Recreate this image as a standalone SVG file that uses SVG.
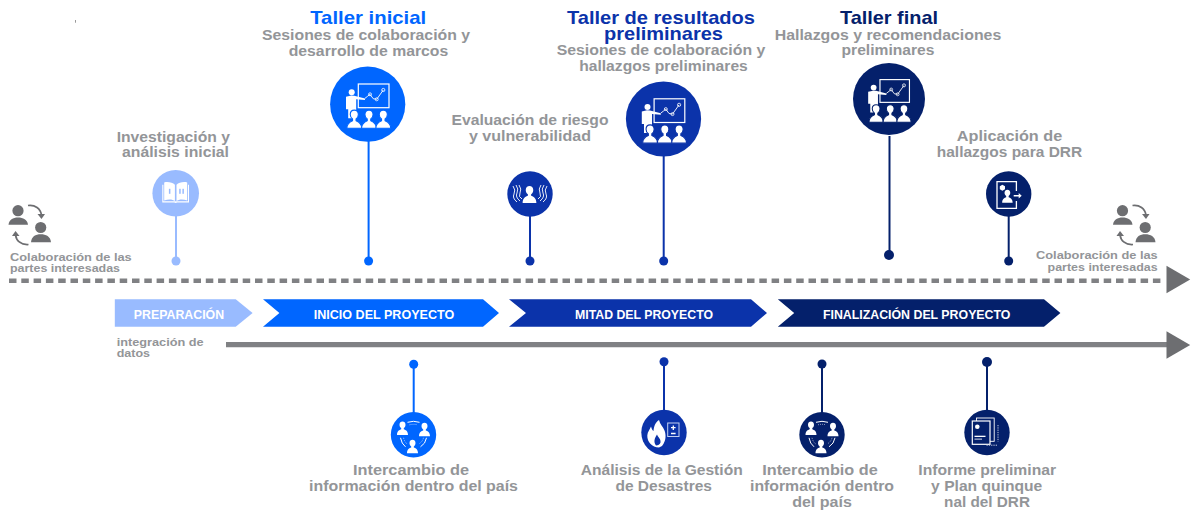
<svg xmlns="http://www.w3.org/2000/svg" xmlns:xlink="http://www.w3.org/1999/xlink" width="1193" height="510" viewBox="0 0 1193 510">
<style>
text{font-family:"Liberation Sans",Arial,sans-serif;font-weight:700;text-anchor:middle}
.s{fill:#939598;font-size:15px}
.c{fill:#939598;font-size:11.5px}
.e{fill:#939598;font-size:11.5px;text-anchor:start}
.t{font-size:19px}
.l{fill:#fff;font-size:12.5px}
.i{fill:#fff;stroke:none}
.o{fill:none;stroke:#fff;stroke-width:1.2}
.lb{fill:#99BBFF;stroke:#99BBFF}
.bl{fill:#0066FF;stroke:#0066FF}
.md{fill:#0B33AA;stroke:#0B33AA}
.dk{fill:#04206B;stroke:#04206B}
.cn{fill:none;stroke-width:2}
.dot{stroke:none}
</style>
<defs>
<polygon id="head" points="0,-13.8 23.7,0 0,13.8" fill="#6D6E71"/>
<path id="per" d="M-5.5 7.5C-5.5 3.5-3 2.5-1.3 1.8V0.6C-2.4-0.2-3-1.4-3-2.8-3-4.8-1.7-6 0-6S3-4.8 3-2.8C3-1.4 2.4-0.2 1.3 0.6V1.8C3 2.5 5.5 3.5 5.5 7.5Z"/>
<g id="pres" style="color:inherit">
<rect x="-9.4" y="-20.2" width="30.7" height="23.7" class="o"/>
<polyline points="-2.7,-5.9 0,-8 2.3,-9.9 5.5,-5.5 9,-4.9 15.6,-14.2" fill="none" stroke="#fff" stroke-width="0.9"/>
<circle cx="15.6" cy="-14.2" r="1.6" fill="none" stroke="#fff" stroke-width="0.8"/>
<circle cx="9" cy="-4.9" r="1.5" fill="none" stroke="#fff" stroke-width="0.8"/>
<circle cx="2.3" cy="-9.9" r="1.5" fill="none" stroke="#fff" stroke-width="0.8"/>
<circle cx="-16" cy="-11.9" r="3" class="i"/>
<path class="i" d="M-21.7-7.5-16.5-8.7-13.5-8.5-2.7-5.8-2.7-4.2-11.5-5V9H-15L-16 14H-19.5V5H-21.7Z"/>
<use href="#per" transform="translate(-13.4 14) scale(1.35)" fill="#fff" stroke="currentColor" stroke-width="0.8"/>
<use href="#per" transform="translate(1.3 14) scale(1.35)" fill="#fff" stroke="currentColor" stroke-width="0.8"/>
<use href="#per" transform="translate(15.6 14) scale(1.35)" fill="#fff" stroke="currentColor" stroke-width="0.8"/>
</g>
<g id="share">
<use href="#per" class="i" transform="translate(-11 -7.3) scale(1)"/>
<use href="#per" class="i" transform="translate(11 -6) scale(1)"/>
<use href="#per" class="i" transform="translate(-1 11) scale(1)"/>
<path d="M-6-12.5Q0-14.5 6-12.5" fill="none" stroke="#fff" stroke-width="1"/>
<path d="M-4-10Q0-11 4-10" fill="none" stroke="#fff" stroke-width="0.6" stroke-dasharray="1 1"/>
<path d="M-13 3Q-12 9-8 12M13 3Q12 9 7 12" fill="none" stroke="#fff" stroke-width="1"/>
<path d="M-10 3Q-9 7-6.5 9M10 3Q9 7 5.5 9" fill="none" stroke="#fff" stroke-width="0.6" stroke-dasharray="1 1"/>
</g>
<g id="collab">
<circle cx="18" cy="210.7" r="5.6" fill="#6D6E71"/>
<path d="M8.5 224.8C9 219.5 13 217.5 18 217.5S27.5 219.5 28 224.8Z" fill="#6D6E71"/>
<circle cx="40.7" cy="227.5" r="5.6" fill="#6D6E71"/>
<path d="M31 242.3C31.5 236.5 35.5 234.3 40.7 234.3S50.5 236.5 51 242.3Z" fill="#6D6E71"/>
<path d="M28 205.5C35 204.5 40.5 208.5 41.5 215" fill="none" stroke="#6D6E71" stroke-width="1.7"/>
<polygon points="37.5,214 45,214 41.5,219" fill="#6D6E71"/>
<path d="M28.5 244.5C21 245 16.5 241 15.5 235" fill="none" stroke="#6D6E71" stroke-width="1.7"/>
<polygon points="12,236 19.5,236 15.5,231" fill="#6D6E71"/>
</g>
</defs>

<rect x="75" y="20" width="1" height="2.7" fill="#999"/>

<g id="connectors">
<line x1="9" y1="280.7" x2="1163" y2="280.7" stroke="#808184" stroke-width="4.5" stroke-dasharray="7.5 4.8"/>
<use href="#head" x="1166.5" y="279.5"/>
<line x1="226" y1="344.7" x2="1168" y2="344.7" stroke="#808184" stroke-width="5.2"/>
<use href="#head" x="1166.5" y="345"/>
<line class="cn lb" x1="176" y1="215" x2="176" y2="261"/><circle class="dot lb" cx="176" cy="261" r="4.5"/>
<line class="cn bl" x1="368.6" y1="140" x2="368.6" y2="261"/><circle class="dot bl" cx="368.6" cy="261" r="4.5"/>
<line class="cn md" x1="530" y1="215" x2="530" y2="261"/><circle class="dot md" cx="530" cy="261" r="4.5"/>
<line class="cn md" x1="663.7" y1="155" x2="663.7" y2="261"/><circle class="dot md" cx="663.7" cy="261" r="4.5"/>
<line class="cn dk" x1="889.5" y1="136" x2="889.5" y2="255"/><circle class="dot dk" cx="889" cy="255" r="5"/>
<line class="cn dk" x1="1008.7" y1="215" x2="1008.7" y2="261"/><circle class="dot dk" cx="1008.7" cy="261" r="4.5"/>
<line class="cn bl" x1="413.7" y1="364" x2="413.7" y2="414"/><circle class="dot bl" cx="413.7" cy="364.3" r="4.5"/>
<line class="cn md" x1="664" y1="362" x2="664" y2="412"/><circle class="dot md" cx="664" cy="361.7" r="4.5"/>
<line class="cn dk" x1="822" y1="364" x2="822" y2="414"/><circle class="dot dk" cx="822" cy="364" r="4.5"/>
<line class="cn dk" x1="987" y1="362" x2="987" y2="412"/><circle class="dot dk" cx="987" cy="362" r="5"/>
</g>

<g id="phase-preparacion"><polygon points="114.8,299.3 235.7,299.3 252.6,313 235.7,326.7 114.8,326.7" fill="#99BBFF"/><text class="l" x="179" y="318.5" textLength="90.3" lengthAdjust="spacingAndGlyphs">PREPARACIÓN</text></g>
<g id="phase-inicio"><polygon points="263,299.3 483,299.3 499,313 483,326.7 263,326.7 279.4,313" fill="#0066FF"/><text class="l" x="384" y="318.5" textLength="140.5" lengthAdjust="spacingAndGlyphs">INICIO DEL PROYECTO</text></g>
<g id="phase-mitad"><polygon points="509,299.3 751,299.3 767,313 751,326.7 509,326.7 526,313" fill="#0B33AA"/><text class="l" x="644" y="318.5" textLength="138" lengthAdjust="spacingAndGlyphs">MITAD DEL PROYECTO</text></g>
<g id="phase-final"><polygon points="777.8,299.3 1044,299.3 1060.4,313 1044,326.7 777.8,326.7 794.2,313" fill="#04206B"/><text class="l" x="916.7" y="318.5" textLength="187.5" lengthAdjust="spacingAndGlyphs">FINALIZACIÓN DEL PROYECTO</text></g>

<g id="collab-left"><use href="#collab"/><text class="e" x="10" y="260.5" textLength="121.7" lengthAdjust="spacingAndGlyphs">Colaboración de las</text><text class="e" x="10" y="272" textLength="110" lengthAdjust="spacingAndGlyphs">partes interesadas</text></g>
<g id="collab-right"><use href="#collab" transform="translate(1104.5 0)"/><text class="e" x="1036" y="259.3" textLength="121.7" lengthAdjust="spacingAndGlyphs">Colaboración de las</text><text class="e" x="1047.6" y="270.5" textLength="110" lengthAdjust="spacingAndGlyphs">partes interesadas</text></g>
<g id="integracion"><text class="e" x="116.7" y="346" textLength="87" lengthAdjust="spacingAndGlyphs">integración de</text><text class="e" x="116.7" y="357" textLength="33.3" lengthAdjust="spacingAndGlyphs">datos</text></g>

<g id="investigacion">
<text class="s" x="173.3" y="141.5" textLength="113.3" lengthAdjust="spacingAndGlyphs">Investigación y</text>
<text class="s" x="175.5" y="157" textLength="107" lengthAdjust="spacingAndGlyphs">análisis inicial</text>
<circle cx="175.7" cy="193.3" r="23.3" fill="#99BBFF"/>
<g transform="translate(175.7 193.3)">
<path class="i" d="M-13.4-8.5-11.5-8.5V7.2C-7 5.5-3 6-0.8 7.8V-8.5C-3-10.8-8-11.8-11.5-10.8V-8.5ZM13.3-8.5 11.5-8.5V7.2C7 5.5 3 6 0.8 7.8V-8.5C3-10.8 8-11.8 11.5-10.8V-8.5Z"/>
<path class="i" d="M-13.4-8.5V9.2H-1.5L0 9.8 1.5 9.2H13.3V-8.5H12.3V8H-12.3V-8.5Z"/>
<rect x="-6.8" y="-4.5" width="1.5" height="5" fill="#99BBFF"/><rect x="3.5" y="-4.5" width="1.5" height="5" fill="#99BBFF"/><rect x="6.7" y="-4.5" width="1.5" height="5" fill="#99BBFF"/>
</g>
</g>

<g id="taller-inicial">
<text class="t" x="368.2" y="24" textLength="116" lengthAdjust="spacingAndGlyphs" fill="#0066FF">Taller inicial</text>
<text class="s" x="366" y="40" textLength="208" lengthAdjust="spacingAndGlyphs">Sesiones de colaboración y</text>
<text class="s" x="368.5" y="55.5" textLength="159.6" lengthAdjust="spacingAndGlyphs">desarrollo de marcos</text>
<circle cx="367.7" cy="104.2" r="37.6" fill="#0066FF"/>
<use href="#pres" transform="translate(367.7 104.2)" color="#0066FF"/>
</g>

<g id="evaluacion">
<text class="s" x="530" y="125" textLength="157" lengthAdjust="spacingAndGlyphs">Evaluación de riesgo</text>
<text class="s" x="530" y="140.5" textLength="122" lengthAdjust="spacingAndGlyphs">y vulnerabilidad</text>
<circle cx="530" cy="194" r="22.7" fill="#0B33AA"/>
<g transform="translate(530 194)">
<use href="#per" class="i" transform="translate(-0.5 -0.5) scale(1.25)"/>
<path d="M-17-8Q-14-4-16 0T-13 8M-14-9Q-11-5-13-1T-10 7M-11-9Q-8-5-10-1T-8 5M17-8Q14-4 16 0T13 8M14-9Q11-5 13-1T10 7M11-9Q8-5 10-1T8 5" fill="none" stroke="#fff" stroke-width="0.9"/>
</g>
</g>

<g id="taller-resultados">
<text class="t" x="661" y="24" textLength="188" lengthAdjust="spacingAndGlyphs" fill="#0B33AA">Taller de resultados</text>
<text class="t" x="663.5" y="40" textLength="119" lengthAdjust="spacingAndGlyphs" fill="#0B33AA">preliminares</text>
<text class="s" x="661" y="55" textLength="208.7" lengthAdjust="spacingAndGlyphs">Sesiones de colaboración y</text>
<text class="s" x="663.5" y="70.7" textLength="168.6" lengthAdjust="spacingAndGlyphs">hallazgos preliminares</text>
<circle cx="663.5" cy="119" r="37.6" fill="#0B33AA"/>
<use href="#pres" transform="translate(663.5 119)" color="#0B33AA"/>
</g>

<g id="taller-final">
<text class="t" x="889" y="24" textLength="98" lengthAdjust="spacingAndGlyphs" fill="#04206B">Taller final</text>
<text class="s" x="888" y="40" textLength="226.5" lengthAdjust="spacingAndGlyphs">Hallazgos y recomendaciones</text>
<text class="s" x="888" y="55" textLength="92.8" lengthAdjust="spacingAndGlyphs">preliminares</text>
<circle cx="889" cy="99" r="36" fill="#04206B"/>
<use href="#pres" transform="translate(889 99) scale(0.96)" color="#04206B"/>
</g>

<g id="aplicacion">
<text class="s" x="1009.5" y="141" textLength="105.4" lengthAdjust="spacingAndGlyphs">Aplicación de</text>
<text class="s" x="1009.5" y="156.5" textLength="145.4" lengthAdjust="spacingAndGlyphs">hallazgos para DRR</text>
<circle cx="1008.7" cy="194" r="22.7" fill="#04206B"/>
<g transform="translate(1008.7 194)">
<path d="M7.7-3V-12.3H-11.7V14.3H7.7V7" fill="none" stroke="#fff" stroke-width="1.3"/>
<polygon class="i" points="-6.3,-9.3 -3.7,-7.8 -3.7,-4.8 -6.3,-3.3 -8.9,-4.8 -8.9,-7.8"/>
<use href="#per" class="i" transform="translate(-1.3 1.5) scale(0.95)"/>
<path class="i" d="M5 1H10V-1L13 1.8 10 4.6V2.6H5Z"/>
</g>
</g>

<g id="intercambio-1">
<circle cx="413.5" cy="434.8" r="22.7" fill="#0066FF"/>
<use href="#share" transform="translate(413.5 434.8)"/>
<text class="s" x="411" y="475" textLength="116" lengthAdjust="spacingAndGlyphs">Intercambio de</text>
<text class="s" x="413.5" y="490.7" textLength="209" lengthAdjust="spacingAndGlyphs">información dentro del país</text>
</g>

<g id="gestion">
<circle cx="664" cy="432.5" r="22.7" fill="#0B33AA"/>
<g transform="translate(664 432.5)">
<path class="i" d="M-5-12.5C-4-8-1-6 0.5-2 2 2 2.5 8-2 13.5L-5 15C-12 15-17 9-16.7 3-16.5-1-14-3-13-6-12-3-11.5-2-10.5-1.5-10-6-9-10-5-12.5Z"/>
<path d="M-8 13C-11 9-9 5-7 2-6 5-3 6-3.5 10-4 12-6 13-8 13Z" fill="#0B33AA"/>
<rect x="3.7" y="-9.5" width="11.3" height="13.5" fill="none" stroke="#C3D0F0" stroke-width="1"/>
<path d="M9.3-7V-2.5M7-4.8H11.6M7 1H11.6" fill="none" stroke="#fff" stroke-width="1.3"/>
</g>
<text class="s" x="661.7" y="475" textLength="162" lengthAdjust="spacingAndGlyphs">Análisis de la Gestión</text>
<text class="s" x="663.7" y="491" textLength="96.5" lengthAdjust="spacingAndGlyphs">de Desastres</text>
</g>

<g id="intercambio-2">
<circle cx="822" cy="434.8" r="22.7" fill="#04206B"/>
<use href="#share" transform="translate(822 434.8)"/>
<text class="s" x="820" y="475" textLength="115.5" lengthAdjust="spacingAndGlyphs">Intercambio de</text>
<text class="s" x="822" y="491" textLength="144" lengthAdjust="spacingAndGlyphs">información dentro</text>
<text class="s" x="822" y="506.7" textLength="59.7" lengthAdjust="spacingAndGlyphs">del país</text>
</g>

<g id="informe">
<circle cx="987" cy="432.5" r="22.7" fill="#04206B"/>
<g transform="translate(987 432.5)">
<rect x="-10.5" y="-14.5" width="17.7" height="23.3" fill="none" stroke="#fff" stroke-width="0.9"/>
<rect x="-14.7" y="-11.5" width="17.7" height="23.3" fill="#04206B" stroke="#fff" stroke-width="1.2"/>
<circle cx="-9.7" cy="-5.8" r="2.3" class="i"/>
<rect x="-12.5" y="3.2" width="11" height="1.3" class="i"/>
<rect x="-12.5" y="6" width="7.5" height="1.3" fill="#A9B4D0"/>
<path d="M11-7.5V9M-0.5 12.7H11" fill="none" stroke="#C3CBE0" stroke-width="1" stroke-dasharray="1.3 1"/>
</g>
<text class="s" x="987.2" y="475" textLength="137.8" lengthAdjust="spacingAndGlyphs">Informe preliminar</text>
<text class="s" x="986.7" y="491" textLength="111.2" lengthAdjust="spacingAndGlyphs">y Plan quinque</text>
<text class="s" x="987" y="507" textLength="85.9" lengthAdjust="spacingAndGlyphs">nal del DRR</text>
</g>
</svg>
